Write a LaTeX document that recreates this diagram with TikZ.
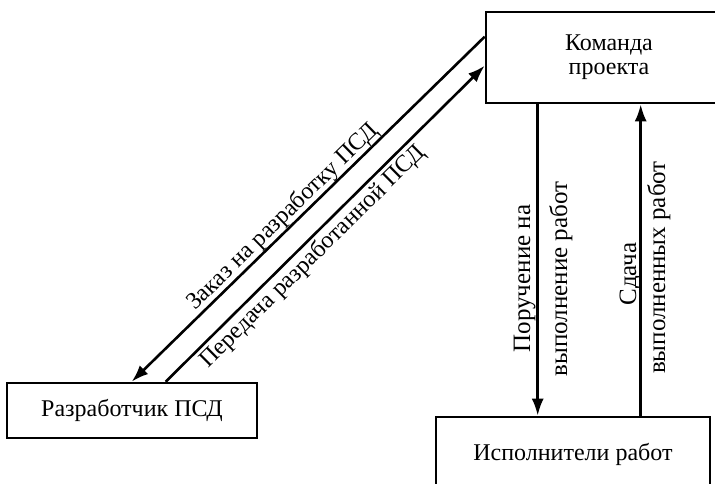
\documentclass[tikz,border=0pt]{standalone}
\usepackage{fontspec}
\setmainfont{Liberation Serif}
\usetikzlibrary{arrows.meta,calc}
\begin{document}
\begin{tikzpicture}[x=1pt,y=-1pt,
  box/.style={draw=black,line width=2.6pt,fill=white,inner sep=0pt},
  conn/.style={line width=2.6pt,-{Latex[length=17pt,width=12pt]}},
  txt/.style={font=\fontsize{24}{24}\selectfont,inner sep=0pt},
  vtxt/.style={font=\fontsize{25}{25}\selectfont,inner sep=0pt,rotate=90,anchor=base}]
\useasboundingbox (0,0) rectangle (715,483);
\node[box,minimum width=246pt,minimum height=91pt,align=center,txt] (team) at (609,57.5) {Команда\\проекта};
\node[box,minimum width=250pt,minimum height=55pt,txt] (dev) at (132,410.5) {Разработчик ПСД};
\node[box,minimum width=274pt,minimum height=74pt,txt] (exec) at (573,454) {Исполнители работ};
\draw[conn] ($(team.north west)+(0,26)$) -- ($(dev.north west)+(126,0)$);
\draw[conn] ($(dev.north west)+(160,0)$) -- ($(team.north west)+(0,55)$);
\draw[conn] ($(team.south west)+(53,0)$) -- ($(exec.north west)+(103,0)$);
\draw[conn] ($(exec.north west)+(206,0)$) -- ($(team.south west)+(156,0)$);
\node[txt,rotate=44.3] (l1) at (283,217) {Заказ на разработку ПСД};
\node[txt,rotate=44.7] (l2) at (313,257) {Передача разработанной ПСД};
\node[vtxt] (l3a) at (530,278.5) {Поручение на};
\node[vtxt] (l3b) at (567,279) {выполнение работ};
\node[vtxt] (l4a) at (636,274) {Сдача};
\node[vtxt] (l4b) at (665,267.5) {выполненных работ};
\end{tikzpicture}
\end{document}
